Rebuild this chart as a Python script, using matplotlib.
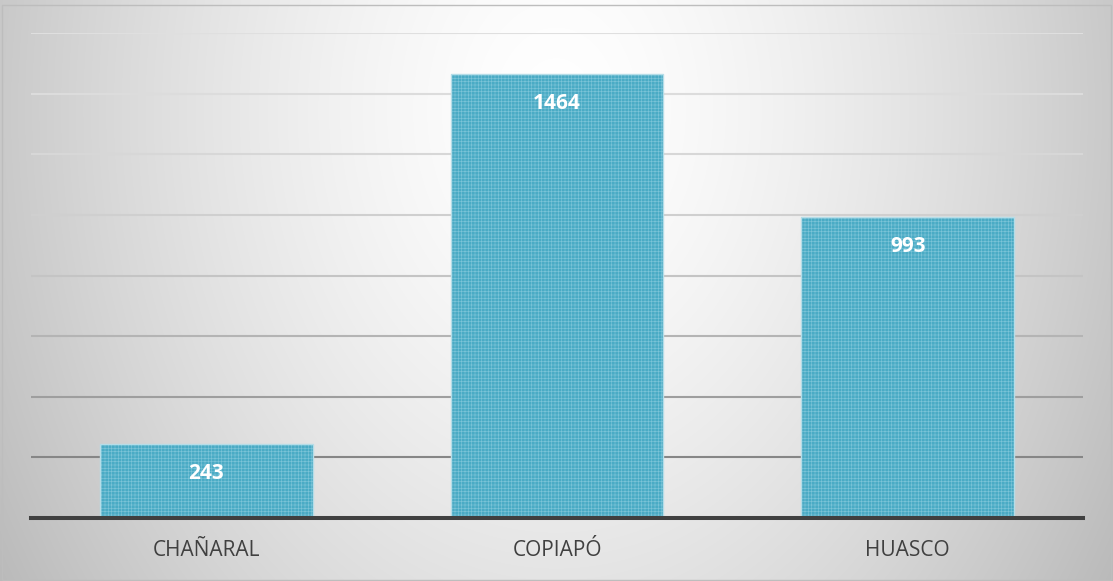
import numpy as np
import matplotlib.pyplot as plt
from matplotlib.patches import Rectangle

# Data
categories = ["CHAÑARAL", "COPIAPÓ", "HUASCO"]
values = [243, 1464, 993]
grid_levels = [200, 400, 600, 800, 1000, 1200, 1400, 1600]

plt.rcParams['font.family'] = ['Open Sans', 'DejaVu Sans']
plt.rcParams['hatch.linewidth'] = 0.45

W, H = 1113, 581
fig = plt.figure(figsize=(W/100, H/100), dpi=100)

# radial grey gradient background over the whole figure
bg = fig.add_axes([0, 0, 1, 1], zorder=-5)
yy, xx = np.mgrid[0:H, 0:W]
d = np.sqrt(((xx - 556)/600.0)**2 + ((yy - 110)/800.0)**2)
shade = np.clip(255 - 60*d**1.5, 185, 255) / 255.0
bg.imshow(np.dstack([shade]*3), aspect='auto', extent=[0, 1, 0, 1])
bg.set_axis_off()
fig.patches.append(Rectangle((0.0015, 0.002), 0.997, 0.99, transform=fig.transFigure,
                             fill=False, edgecolor='#bdbdbd', linewidth=1))

ax = fig.add_axes([31/W, (H-518)/H, (1083-31)/W, (518-33)/H])
ax.patch.set_alpha(0)

x = np.arange(len(categories))
# dotted texture, then a thin light outline on top
ax.bar(x, values, width=0.606, color='#4aabc5', edgecolor='#7cc4d8',
       linewidth=0, hatch='+++++', zorder=3)
ax.bar(x, values, width=0.606, fill=False, edgecolor='#b5dde8',
       linewidth=1, zorder=3)

for xi, v in zip(x, values):
    ax.annotate(str(v), (xi, v), xytext=(0, -35), textcoords='offset pixels',
                ha='center', va='baseline', color='white', fontsize=15,
                fontweight='bold', zorder=4)

# gridlines get darker toward the bottom
grid_colors = ['#868686', '#9e9e9e', '#b4b4b4', '#c4c4c4', '#cfcfcf',
               '#d7d7d7', '#dcdcdc', '#dfdfdf']
for g, c in zip(grid_levels, grid_colors):
    ax.axhline(g, color=c, linewidth=1.5, zorder=1)

ax.set_xlim(-0.5, 2.5)
ax.set_ylim(0, 1600)
ax.set_yticks([])
ax.set_xticks(x, labels=categories)
ax.tick_params(axis='x', length=0, pad=16, labelsize=15, labelcolor='#404040')
for s in ['top', 'right', 'left']:
    ax.spines[s].set_visible(False)
ax.spines['bottom'].set_color('#404040')
ax.spines['bottom'].set_linewidth(2.9)
ax.spines['bottom'].set_zorder(5)

fig.savefig('out.png', dpi=100)
